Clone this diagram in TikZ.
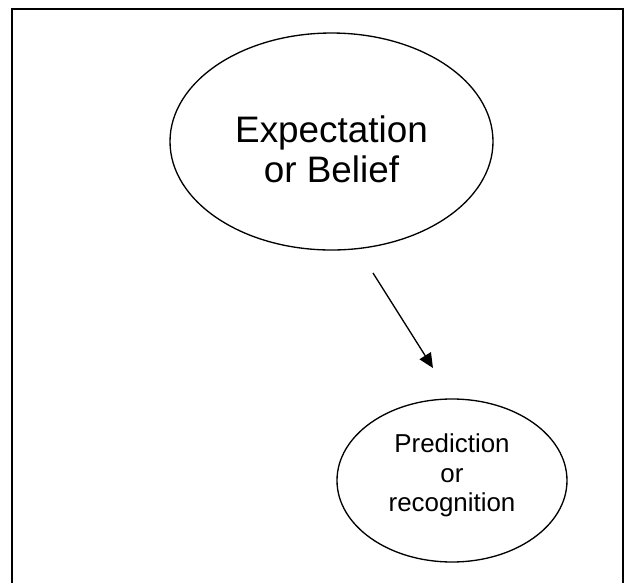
\documentclass[tikz,border=0pt]{standalone}
\usepackage{fontspec}
\setmainfont{Liberation Sans}
\usepackage{tikz}
\usetikzlibrary{arrows.meta}
\usetikzlibrary{shapes,calc,positioning}

\begin{document}
\begin{tikzpicture}[
    bubble/.style={draw, ellipse, line width=1pt, align=center, anchor=center},
    pointer/.style={-{Triangle[length=11pt,width=10pt]}, line width=1pt}
]

\useasboundingbox (0,0) rectangle (16.563,-15.399);
\coordinate(O1) at (0,0);

\draw[line width=1.5pt] (0.318,-0.238) rectangle (16.484,-15.9);

\node[below right=3.744cm and 8.771cm of O1, bubble, minimum width=8.546cm, minimum height=5.741cm, text height=62.7pt, font=\fontsize{27.75}{30.75}\selectfont](belief) {Expectation\\ or Belief};
\node[below right=12.713cm and 11.959cm of O1, bubble, minimum width=6.085cm, minimum height=4.313cm, text depth=11.6pt, font=\fontsize{19.5}{22.3}\selectfont](pred) {Prediction\\ or\\ recognition};

\coordinate[below right=7.223cm and 9.869cm of O1](tail);
\coordinate[below right=9.737cm and 11.456cm of O1](tip);

\draw[pointer] (tail) -- (tip);
\end{tikzpicture}
\end{document}
